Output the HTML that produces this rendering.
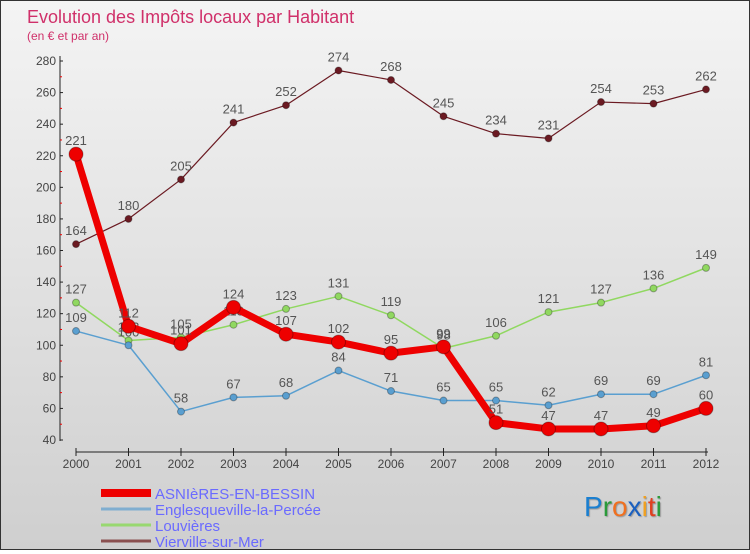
<!DOCTYPE html>
<html><head><meta charset="utf-8"><style>
body{margin:0;width:750px;height:550px;overflow:hidden;font-family:"Liberation Sans",sans-serif;}
#wrap{position:relative;width:748px;height:548px;border:1px solid #333;background:linear-gradient(#f4f4f4,#cfcfcf);}
</style></head><body>
<div id="wrap">
<svg id="chart" width="748" height="548"></svg>
</div>
<script>
const years=[2000,2001,2002,2003,2004,2005,2006,2007,2008,2009,2010,2011,2012];
const yTicks=[40,60,80,100,120,140,160,180,200,220,240,260,280];
const asnieres=[221,112,101,124,107,102,95,99,51,47,47,49,60];
const englesqueville=[109,100,58,67,68,84,71,65,65,62,69,69,81];
const louvieres=[127,103,105,113,123,131,119,98,106,121,127,136,149];
const vierville=[164,180,205,241,252,274,268,245,234,231,254,253,262];
const NS="http://www.w3.org/2000/svg";
const svg=document.getElementById('chart');
const x=i=>75+i*52.5;
const y=v=>439-(v-40)*(379/240);
function mk(t,a,txt){const e=document.createElementNS(NS,t);for(const k in a)e.setAttribute(k,a[k]);if(txt!=null)e.textContent=txt;svg.appendChild(e);return e;}
let e;
e=mk('text',{x:26,y:22,'font-size':18,fill:'#d0306a'},'Evolution des Impôts locaux par Habitant');

e=mk('text',{x:26,y:39,'font-size':12,fill:'#d0306a'},'(en € et par an)');

e=mk('line',{x1:59,y1:55,x2:59,y2:440,stroke:'#222'});

yTicks.forEach(v=>{
 const t=mk('text',{x:55,y:y(v)+4,'font-size':12,fill:'#444','text-anchor':'end'},v);
 
 mk('line',{x1:59,y1:y(v),x2:62,y2:y(v),stroke:'#222'});
 if(v<280){mk('line',{x1:59,y1:y(v+10),x2:61,y2:y(v+10),stroke:'#e00'});}
});
e=mk('line',{x1:75,y1:451,x2:707,y2:451,stroke:'#222'});

years.forEach((yr,i)=>{
 mk('line',{x1:x(i),y1:447,x2:x(i),y2:455,stroke:'#222'});
 const t=mk('text',{x:x(i),y:467,'font-size':12,fill:'#444','text-anchor':'middle'},yr);
 
});
function series(vals,color,w,r,name){
 const p=mk('polyline',{points:vals.map((v,i)=>x(i)+','+y(v)).join(' '),fill:'none',stroke:color,'stroke-width':w,'stroke-linejoin':'round'});
 
 vals.forEach((v,i)=>{
  const c=mk('circle',{cx:x(i),cy:y(v),r:r,fill:color,stroke:'rgba(0,0,0,0.3)','stroke-width':1});
  
  const t=mk('text',{x:x(i),y:y(v)-9,'font-size':13,fill:'#555','text-anchor':'middle'},v);
  
 });
}
series(vierville,'#6b1a22',1.2,3.5,'vierville');
series(louvieres,'#90d860',1.5,3.5,'louvieres');
series(englesqueville,'#5a9fd0',1.5,3.5,'englesqueville');
series(asnieres,'#ee0000',7,7,'asnieres');
const legend=[['ASNIèRES-EN-BESSIN','#ee0000',8],['Englesqueville-la-Percée','#80aed0',3],['Louvières','#98d870',3],['Vierville-sur-Mer','#8a5050',3]];
legend.forEach((l,i)=>{
 const yy=492+i*16;
 const ln=mk('line',{x1:100,y1:yy,x2:150,y2:yy,stroke:l[1],'stroke-width':l[2]});
 
 const t=mk('text',{x:154,y:yy+6,'font-size':15,fill:'#6a6aff'},l[0]);
 
});
const g=mk('text',{x:583,y:515,'font-size':28,'font-weight':'normal',style:'text-shadow:1px 1px 1px #999'},'');

[['P','#1a7fd0'],['r','#2a9a3a'],['o','#f07020'],['x','#1a60c0'],['i','#f0a020'],['t','#e04020'],['i','#2a9a3a']].forEach(c=>{
 const s=document.createElementNS(NS,'tspan');s.setAttribute('fill',c[1]);s.textContent=c[0];g.appendChild(s);
});
</script>
</body></html>
